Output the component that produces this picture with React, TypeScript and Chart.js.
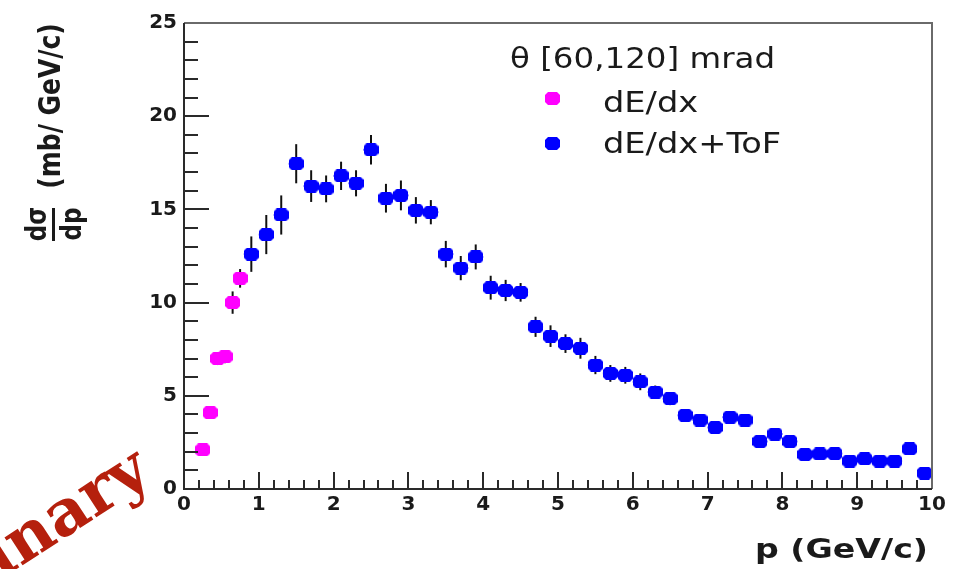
import React, { useEffect, useRef } from "react";
import { Chart, registerables } from "chart.js";

Chart.register(...registerables);

// ---- data ----
const pDEdx = [0.25, 0.35, 0.45, 0.55, 0.65, 0.75];
const sigmaDEdx = [2.1, 4.1, 7.0, 7.1, 10.0, 11.3];
const errDEdx = [0.3, 0.3, 0.35, 0.35, 0.6, 0.5];

const pTof = [
  0.9, 1.1, 1.3, 1.5, 1.7, 1.9, 2.1, 2.3, 2.5, 2.7, 2.9, 3.1, 3.3, 3.5, 3.7, 3.9,
  4.1, 4.3, 4.5, 4.7, 4.9, 5.1, 5.3, 5.5, 5.7, 5.9, 6.1, 6.3, 6.5, 6.7, 6.9, 7.1,
  7.3, 7.5, 7.7, 7.9, 8.1, 8.3, 8.5, 8.7, 8.9, 9.1, 9.3, 9.5, 9.7, 9.9,
];
const sigmaTof = [
  12.6, 13.65, 14.7, 17.45, 16.25, 16.1, 16.8, 16.4, 18.2, 15.6, 15.75, 14.95, 14.85, 12.6, 11.85, 12.45,
  10.8, 10.65, 10.55, 8.7, 8.2, 7.8, 7.55, 6.65, 6.2, 6.1, 5.75, 5.2, 4.85, 3.95, 3.7, 3.3,
  3.85, 3.7, 2.55, 2.95, 2.55, 1.85, 1.88, 1.9, 1.5, 1.62, 1.5, 1.5, 2.15, 0.85,
];
const errTof = [
  0.95, 1.05, 1.05, 1.05, 0.85, 0.72, 0.76, 0.7, 0.79, 0.77, 0.8, 0.71, 0.65, 0.71, 0.65, 0.67,
  0.64, 0.57, 0.5, 0.54, 0.58, 0.5, 0.56, 0.49, 0.45, 0.45, 0.45, 0.35, 0.35, 0.3, 0.3, 0.3,
  0.3, 0.3, 0.25, 0.3, 0.25, 0.25, 0.25, 0.25, 0.2, 0.2, 0.2, 0.2, 0.25, 0.2,
];
const halfBinDEdx = 0.05;
const halfBinTof = 0.1;

const seriesNames = ["dE/dx", "dE/dx+ToF"];
const legendTitle = "\u03b8 [60,120] mrad";
const xTitle = "p (GeV/c)";
const yTitleUnits = "(mb/ GeV/c)";
const yTitleNum = "d\u03c3";
const yTitleDen = "dp";
const watermark = "Preliminary";

const xMin = 0, xMax = 10, xStep = 1, xMinorPerMajor = 5;
const yMin = 0, yMax = 25, yStep = 5, yMinorPerMajor = 5;

const MAGENTA = "#ff00ff";
const BLUE = "#0000ff";

function makeMarker(color: string): HTMLCanvasElement {
  const c = document.createElement("canvas");
  const w = 15, h = 13, k = 3;
  c.width = w;
  c.height = h;
  const g = c.getContext("2d")!;
  g.fillStyle = color;
  g.beginPath();
  g.moveTo(k, 0);
  g.lineTo(w - k, 0);
  g.lineTo(w, k);
  g.lineTo(w, h - k);
  g.lineTo(w - k, h);
  g.lineTo(k, h);
  g.lineTo(0, h - k);
  g.lineTo(0, k);
  g.closePath();
  g.fill();
  return c;
}

function stretched(
  ctx: CanvasRenderingContext2D,
  text: string,
  x: number,
  y: number,
  font: string,
  sx: number,
  align: CanvasTextAlign,
  color: string
) {
  ctx.save();
  ctx.translate(x, y);
  ctx.scale(sx, 1);
  ctx.font = font;
  ctx.textAlign = align;
  ctx.textBaseline = "alphabetic";
  ctx.fillStyle = color;
  ctx.fillText(text, 0, 0);
  ctx.restore();
}

function rotatedText(
  ctx: CanvasRenderingContext2D,
  text: string,
  x: number,
  y: number,
  font: string,
  sx: number,
  color: string
) {
  ctx.save();
  ctx.translate(x, y);
  ctx.scale(sx, 1);
  ctx.rotate(-Math.PI / 2);
  ctx.font = font;
  ctx.textAlign = "center";
  ctx.textBaseline = "alphabetic";
  ctx.fillStyle = color;
  ctx.fillText(text, 0, 0);
  ctx.restore();
}

export default function App() {
  const ref = useRef<HTMLCanvasElement | null>(null);

  useEffect(() => {
    if (!ref.current) return;
    const mMag = makeMarker(MAGENTA);
    const mBlue = makeMarker(BLUE);

    const errorBars = {
      id: "errorBars",
      beforeDatasetsDraw(chart: any) {
        const ctx: CanvasRenderingContext2D = chart.ctx;
        const xs = chart.scales.x;
        const ys = chart.scales.y;
        const a = chart.chartArea;
        ctx.save();
        ctx.beginPath();
        ctx.rect(a.left, a.top, a.right - a.left, a.bottom - a.top);
        ctx.clip();
        const sets = [
          { p: pDEdx, s: sigmaDEdx, e: errDEdx, hb: halfBinDEdx, c: MAGENTA },
          { p: pTof, s: sigmaTof, e: errTof, hb: halfBinTof, c: BLUE },
        ];
        for (const d of sets) {
          for (let i = 0; i < d.p.length; i++) {
            const px = xs.getPixelForValue(d.p[i]);
            const py = ys.getPixelForValue(d.s[i]);
            const y1 = ys.getPixelForValue(d.s[i] + d.e[i]);
            const y2 = ys.getPixelForValue(d.s[i] - d.e[i]);
            ctx.strokeStyle = "#111";
            ctx.lineWidth = 2;
            ctx.beginPath();
            ctx.moveTo(px, y1);
            ctx.lineTo(px, y2);
            ctx.stroke();
            const x1 = xs.getPixelForValue(d.p[i] - d.hb);
            const x2 = xs.getPixelForValue(d.p[i] + d.hb);
            ctx.strokeStyle = d.c;
            ctx.beginPath();
            ctx.moveTo(x1, py);
            ctx.lineTo(x2, py);
            ctx.stroke();
          }
        }
        ctx.restore();
      },
    };

    const decorations = {
      id: "decorations",
      afterDraw(chart: any) {
        const ctx: CanvasRenderingContext2D = chart.ctx;
        const xs = chart.scales.x;
        const ys = chart.scales.y;
        const a = chart.chartArea;
        ctx.save();
        // ticks
        ctx.strokeStyle = "#2a2a2a";
        ctx.lineWidth = 2;
        const nx = ((xMax - xMin) / xStep) * xMinorPerMajor;
        for (let i = 1; i < nx; i++) {
          const v = xMin + (i * xStep) / xMinorPerMajor;
          const px = Math.round(xs.getPixelForValue(v));
          const len = i % xMinorPerMajor === 0 ? 17 : 9;
          ctx.beginPath();
          ctx.moveTo(px, a.bottom);
          ctx.lineTo(px, a.bottom - len);
          ctx.stroke();
        }
        const ny = ((yMax - yMin) / yStep) * yMinorPerMajor;
        for (let i = 1; i < ny; i++) {
          const v = yMin + (i * yStep) / yMinorPerMajor;
          const py = Math.round(ys.getPixelForValue(v));
          const len = i % yMinorPerMajor === 0 ? 25 : 14;
          ctx.beginPath();
          ctx.moveTo(a.left, py);
          ctx.lineTo(a.left + len, py);
          ctx.stroke();
        }
        // frame
        ctx.strokeStyle = "#6a6a6a";
        ctx.beginPath();
        ctx.moveTo(a.left, a.top);
        ctx.lineTo(a.right, a.top);
        ctx.lineTo(a.right, a.bottom);
        ctx.stroke();
        ctx.strokeStyle = "#2a2a2a";
        ctx.beginPath();
        ctx.moveTo(a.left, a.top);
        ctx.lineTo(a.left, a.bottom);
        ctx.lineTo(a.right, a.bottom);
        ctx.stroke();

        // x title
        stretched(ctx, xTitle, 928, 558, "bold 27px 'DejaVu Sans'", 1.23, "right", "#1a1a1a");

        // y title
        rotatedText(ctx, yTitleUnits, 60, 106, "bold 25px 'DejaVu Sans'", 1.2, "#1a1a1a");
        rotatedText(ctx, yTitleNum, 46, 224, "bold 23px 'DejaVu Sans'", 1.2, "#1a1a1a");
        rotatedText(ctx, yTitleDen, 81, 224, "bold 23px 'DejaVu Sans'", 1.2, "#1a1a1a");
        ctx.fillStyle = "#1a1a1a";
        ctx.fillRect(52, 208, 3, 33);

        // legend
        stretched(ctx, legendTitle, 510, 68, "29px 'DejaVu Sans'", 1.12, "left", "#1a1a1a");
        ctx.drawImage(mMag, 552 - 7, 98 - 6);
        stretched(ctx, seriesNames[0], 603, 112, "29px 'DejaVu Sans'", 1.16, "left", "#1a1a1a");
        ctx.drawImage(mBlue, 552 - 7, 143 - 6);
        stretched(ctx, seriesNames[1], 603, 153, "29px 'DejaVu Sans'", 1.16, "left", "#1a1a1a");

        // watermark
        ctx.save();
        ctx.translate(154, 480);
        ctx.rotate((-33 * Math.PI) / 180);
        ctx.font = "bold 64px 'DejaVu Serif'";
        ctx.textAlign = "right";
        ctx.textBaseline = "alphabetic";
        ctx.fillStyle = "#b5200d";
        ctx.fillText(watermark, 0, 0);
        ctx.restore();

        ctx.restore();
      },
    };

    const tickFont = { family: "'DejaVu Sans'", weight: "bold" as const, size: 20 };

    const chart = new Chart(ref.current, {
      type: "scatter",
      data: {
        datasets: [
          {
            label: seriesNames[0],
            data: pDEdx.map((p, i) => ({ x: p, y: sigmaDEdx[i] })),
            pointStyle: mMag as any,
            pointRadius: 7,
            pointHoverRadius: 7,
            backgroundColor: MAGENTA,
            borderColor: MAGENTA,
          },
          {
            label: seriesNames[1],
            data: pTof.map((p, i) => ({ x: p, y: sigmaTof[i] })),
            pointStyle: mBlue as any,
            pointRadius: 7,
            pointHoverRadius: 7,
            backgroundColor: BLUE,
            borderColor: BLUE,
          },
        ],
      },
      options: {
        responsive: false,
        animation: false,
        events: [],
        layout: { padding: { left: 0, right: 22, top: 23, bottom: 0 } },
        plugins: {
          legend: { display: false },
          tooltip: { enabled: false },
          title: { display: false },
        },
        scales: {
          x: {
            type: "linear",
            min: xMin,
            max: xMax,
            grid: { display: false, drawTicks: false },
            border: { display: false },
            ticks: {
              stepSize: xStep,
              autoSkip: false,
              maxRotation: 0,
              padding: 4,
              color: "#1a1a1a",
              font: tickFont,
            },
            afterFit(scale: any) {
              scale.height = 80;
            },
          },
          y: {
            type: "linear",
            min: yMin,
            max: yMax,
            grid: { display: false, drawTicks: false },
            border: { display: false },
            ticks: {
              stepSize: yStep,
              autoSkip: false,
              padding: 7,
              color: "#1a1a1a",
              font: tickFont,
            },
            afterFit(scale: any) {
              scale.width = 184;
            },
          },
        },
      },
      plugins: [errorBars, decorations],
    });
    return () => chart.destroy();
  }, []);

  return (
    <div style={{ position: "fixed", left: 0, top: 0, width: 954, height: 569, background: "#fff" }}>
      <canvas ref={ref} width={954} height={569} style={{ width: 954, height: 569, display: "block" }} />
    </div>
  );
}
